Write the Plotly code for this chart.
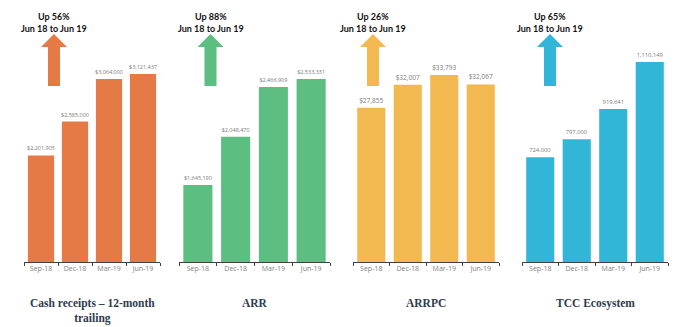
import plotly.graph_objects as go

W, H = 685, 327

categories = ["Sep-18", "Dec-18", "Mar-19", "Jun-19"]
cash_receipts = [2201905, 2585000, 3064000, 3121437]
arr = [1645190, 2048470, 2466909, 2533331]
arrpc = [27855, 32007, 33793, 32067]
tcc_ecosystem = [724000, 797000, 919641, 1110149]

cash_labels = ["$2,201,905", "$2,585,000", "$3,064,000", "$3,121,437"]
arr_labels = ["$1,645,190", "$2,048,470", "$2,466,909", "$2,533,331"]
arrpc_labels = ["$27,855", "$32,007", "$33,793", "$32,067"]
tcc_labels = ["724,000", "797,000", "919,641", "1,110,149"]

titles = ["Cash receipts – 12-month<br>trailing", "ARR", "ARRPC", "TCC Ecosystem"]
growth = ["Up 56%", "Up 88%", "Up 26%", "Up 65%"]
period = "Jun 18 to Jun 19"

colors = ["#E67A46", "#5CBE80", "#F2B950", "#31B6D8"]
series = [cash_receipts, arr, arrpc, tcc_ecosystem]
labels = [cash_labels, arr_labels, arrpc_labels, tcc_labels]
y_ranges = [[1000000, 3505000], [1000000, 2860000], [0, 40100], [300000, 1199000]]
label_sizes = [5.5, 5.5, 6.5, 5.8]

# pixel layout
x_px = [(24, 160), (179, 330), (353, 499), (522, 668)]
arrow_cx = [54, 210.5, 373, 550]
title_cx = [92, 255, 426, 595]
plot_bottom, plot_top = 262, 40


def px(x):
    return x / W


def py(y):
    return (H - y) / H


fig = go.Figure()
for i in range(4):
    n = "" if i == 0 else str(i + 1)
    fig.add_trace(go.Bar(
        x=categories, y=series[i], text=labels[i], textposition="outside",
        textfont=dict(size=label_sizes[i], color="#7a7a7a", family="Open Sans"),
        marker=dict(color=colors[i], line=dict(width=0)),
        constraintext="none",
        xaxis="x" + n, yaxis="y" + n, showlegend=False, hoverinfo="skip",
    ))
    x0, x1 = x_px[i]
    fig.layout["xaxis" + n] = dict(
        domain=[px(x0), px(x1)], anchor="y" + n, showline=True, linecolor="#404040",
        linewidth=1, ticks="outside", tickson="boundaries", ticklen=3,
        tickcolor="#404040", tickfont=dict(size=7, color="#808080", family="Open Sans"),
        showgrid=False, zeroline=False, fixedrange=True,
    )
    fig.layout["yaxis" + n] = dict(
        domain=[py(plot_bottom), py(plot_top)], anchor="x" + n, range=y_ranges[i],
        visible=False, showgrid=False, zeroline=False, fixedrange=True,
    )

    # titles below
    fig.add_annotation(
        x=px(title_cx[i]), y=py(295), xref="paper", yref="paper",
        text="<b>" + titles[i] + "</b>", showarrow=False, yanchor="top", xanchor="center",
        font=dict(family="Liberation Serif", size=11.5, color="#2E3B4E"),
    )
    # growth text
    fig.add_annotation(
        x=px(arrow_cx[i]), y=py(9), xref="paper", yref="paper",
        text="<b>" + growth[i] + "<br>" + period + "</b>", showarrow=False,
        yanchor="top", xanchor="center", font=dict(family="Lato", size=9, color="#111111"),
    )
    # arrow shape
    cx = arrow_cx[i]
    pts = [(cx, 34), (cx + 13, 47), (cx + 6, 47), (cx + 6, 86), (cx - 6, 86),
           (cx - 6, 47), (cx - 13, 47)]
    path = "M " + " L ".join(f"{px(a):.5f},{py(b):.5f}" for a, b in pts) + " Z"
    fig.add_shape(type="path", path=path, xref="paper", yref="paper",
                  fillcolor=colors[i], line=dict(width=0))

fig.update_layout(
    width=W, height=H, margin=dict(l=0, r=0, t=0, b=0),
    paper_bgcolor="white", plot_bgcolor="white", bargap=0.23,
)
fig.write_html("out.html", config={"displayModeBar": False})
